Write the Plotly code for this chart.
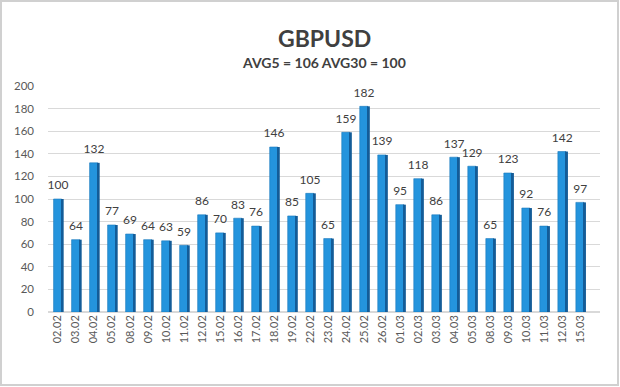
import plotly.graph_objects as go

dates = ["02.02", "03.02", "04.02", "05.02", "08.02", "09.02", "10.02", "11.02", "12.02", "15.02",
         "16.02", "17.02", "18.02", "19.02", "22.02", "23.02", "24.02", "25.02", "26.02", "01.03",
         "02.03", "03.03", "04.03", "05.03", "08.03", "09.03", "10.03", "11.03", "12.03", "15.03"]
values = [100, 64, 132, 77, 69, 64, 63, 59, 86, 70,
          83, 76, 146, 85, 105, 65, 159, 182, 139, 95,
          118, 86, 137, 129, 65, 123, 92, 76, 142, 97]
title = "GBPUSD"
subtitle = "AVG5 = 106 AVG30 = 100"
yticks = [0, 20, 40, 60, 80, 100, 120, 140, 160, 180, 200]

FONT = "Lato"
L, R, T, B = 48, 20, 86, 75
W, H = 620, 387
pw, ph = W - L - R, H - T - B

fig = go.Figure()
# front face
fig.add_trace(go.Bar(
    x=dates, y=values, offset=-0.24, width=0.45,
    marker=dict(color="#2494DD", line=dict(width=0.6, color="#1A78BC")),
    hoverinfo="x+y", showlegend=False,
))
# side face (3D shading)
fig.add_trace(go.Bar(
    x=dates, y=values, offset=0.21, width=0.11,
    marker=dict(color="#135C98", line=dict(width=0)),
    hoverinfo="skip", showlegend=False,
))
# value labels
fig.add_trace(go.Scatter(
    x=dates, y=values, mode="markers+text", text=[str(v) for v in values],
    marker=dict(size=9, opacity=0),
    textposition="top center", cliponaxis=False,
    textfont=dict(family=FONT, size=12, color="#404040"),
    hoverinfo="skip", showlegend=False,
))

fig.update_layout(
    width=W, height=H,
    margin=dict(l=L, r=R, t=T, b=B),
    paper_bgcolor="white", plot_bgcolor="white",
    barmode="overlay",
    font=dict(family=FONT, color="#595959"),
    annotations=[
        dict(text="<b>" + title + "</b>", x=0.5, xref="paper", y=(H - 38 - B) / ph, yref="paper",
             yanchor="middle", showarrow=False, font=dict(family=FONT, size=23, color="#404040")),
        dict(text="<b>" + subtitle + "</b>", x=0.5, xref="paper", y=(H - 62 - B) / ph, yref="paper",
             yanchor="middle", showarrow=False, font=dict(family=FONT, size=14, color="#404040")),
    ],
    shapes=[dict(type="rect", xref="paper", yref="paper",
                 x0=-(L - 1) / pw, x1=1 + (R - 2) / pw,
                 y0=-(B - 2) / ph, y1=1 + (T - 1) / ph,
                 line=dict(color="#D0D0D0", width=2), layer="below")],
)

fig.update_xaxes(
    type="category", range=[-0.55, 30.1],
    tickangle=-90, tickfont=dict(family=FONT, size=11, color="#595959"),
    showgrid=False, showline=False, ticks="",
)
fig.update_yaxes(
    range=[0, 200], tickvals=yticks,
    tickfont=dict(family=FONT, size=11.5, color="#595959"),
    gridcolor="#D9D9D9", gridwidth=1, zeroline=True, zerolinecolor="#D9D9D9",
    showline=False, ticks="", ticklabelstandoff=13,
)

fig.write_html("out.html", config={"displayModeBar": False},
               post_script="document.body.style.margin='0';document.body.style.overflow='hidden';")
